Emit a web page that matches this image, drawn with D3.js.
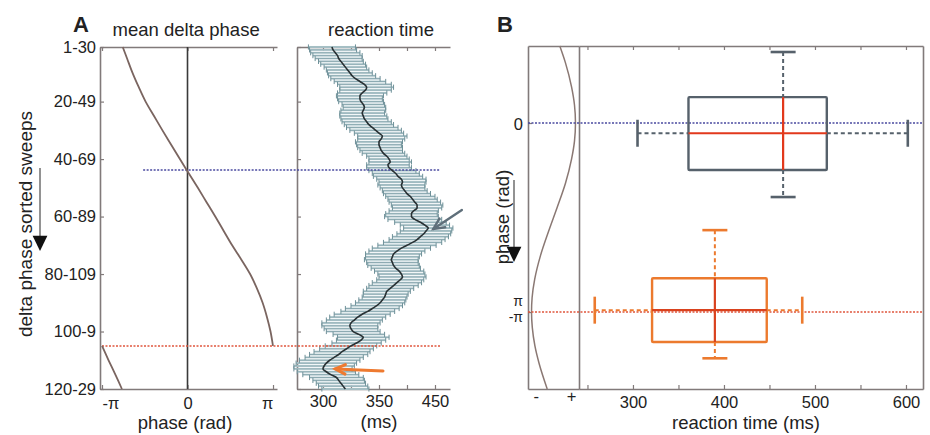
<!DOCTYPE html>
<html><head><meta charset="utf-8">
<script src="https://cdn.jsdelivr.net/npm/d3@7"></script>
<style>
html,body{margin:0;padding:0;background:#fff;}
svg text{font-family:"Liberation Sans",Arial,sans-serif;fill:#222;}
</style></head><body>
<svg id="chart" width="930" height="435"></svg>
<script>
// ---------------- DATA ----------------
// Panel A: sliding windows of delta-phase sorted sweeps
const windowTicks = [1, 20, 40, 60, 80, 100, 120];
const windowTickLabels = ["1-30", "20-49", "40-69", "60-89", "80-109", "100-9", "120-29"];

// mean delta phase (rad) per window, before and after the wrap at ±π
const phaseWindows1 = [1, 5, 10, 15, 20, 25, 30, 35, 40, 45, 50, 55, 60, 65, 70, 75, 80, 85, 90, 95, 100, 105];
const meanPhase1 = [-2.38, -2.22, -2.02, -1.79, -1.54, -1.23, -0.92, -0.60, -0.28, 0.05, 0.38, 0.70, 1.02, 1.33, 1.64, 1.98, 2.30, 2.55, 2.76, 2.92, 3.05, 3.14];
const phaseWindows2 = [105, 110, 115, 120];
const meanPhase2 = [-3.14, -2.90, -2.65, -2.41];
const phaseTicksA = [-Math.PI, 0, Math.PI];
const phaseTickLabelsA = ["-π", "0", "π"];

// reaction time (ms) per window 1..120: mean and SEM
const rtMean = [
 308,309,311,313,314,316,318,320,322,324,
 326,329,333,337,339,338,335,333,333,334,
 336,337,336,335,336,337,339,341,344,347,
 350,353,352,350,350,351,352,354,357,359,
 360,358,359,362,365,367,370,371,370,371,
 373,375,378,380,382,384,384,381,379,379,
 382,387,391,394,392,390,387,384,380,375,
 370,366,363,362,361,362,363,365,368,370,
 371,369,366,363,360,357,356,355,353,351,
 348,344,340,335,331,328,325,324,325,327,
 332,336,334,330,325,321,317,314,310,306,
 303,301,300,303,307,312,314,316,318,320];
const rtSem = [
 21,21,22,22,21,20,20,19,19,20,
 21,22,23,24,24,23,22,21,20,20,
 19,19,20,20,21,21,22,22,23,23,
 22,22,21,21,20,20,19,19,18,18,
 19,19,20,21,21,22,22,21,21,20,
 20,21,22,22,23,23,22,22,23,24,
 24,23,22,22,23,24,25,25,26,26,
 26,25,25,24,24,23,23,22,22,21,
 21,21,22,22,21,21,20,20,21,22,
 23,24,24,25,25,25,26,25,24,24,
 23,23,22,22,23,24,25,26,26,27,
 27,27,26,26,25,24,23,22,22,21];
const rtTicksA = [300, 325, 350, 375, 400];
const rtTickLabelsA = ["300", "", "350", "", "450"];

// reference windows (zero crossing and ±π wrap)
const zeroCrossWindow = 43.8;
const wrapWindow = 105;

// Panel B: phase density (arbitrary units, - to +)
const densityPhase = [-1.28, -1.0, -0.6, -0.3, 0, 0.3, 0.6, 1.0, 1.4, 1.8, 2.2, 2.6, 2.9, 3.14, 3.4, 3.7, 4.0, 4.42];
const densityValue = [0.32, 0.61, 0.92, 1.07, 1.12, 1.07, 0.92, 0.61, 0.19, -0.25, -0.66, -0.96, -1.09, -1.12, -1.08, -0.95, -0.73, -0.32];
const densityTicks = [-0.9, 0.9];
const densityTickLabels = ["-", "+"];

// Panel B: 2-D box plots (reaction time x phase) for the two groups
const boxGroups = ["phase 0", "phase ±π"];
const rtWhiskLo = [305, 258];
const rtQ1 = [361, 321];
const rtMedian = [465, 390];
const rtQ3 = [513, 447];
const rtWhiskHi = [602, 486];
const phWhiskLo = [-1.18, 1.78];
const phQ1 = [-0.43, 2.58];
const phMedian = [0.17, 3.11];
const phQ3 = [0.78, 3.64];
const phWhiskHi = [1.23, 3.91];
const rtTicksB = [250, 300, 350, 400, 450, 500, 550, 600];
const rtTickLabelsB = ["", "300", "", "400", "", "500", "", "600"];
const phaseTicksB = [0, Math.PI];
const phaseTickLabelsB = [["0"], ["π", "-π"]];

// ---------------- DRAWING ----------------
const svg = d3.select("#chart");
const AX = "#817a7a";
const TICKFS = "16.5px";
const LABFS = "18.5px";
const BLUE_DOT = "#4a4aa0";
const RED_DOT = "#e0553d";

// scales
const yWin = d3.scaleLinear().domain([1, 120]).range([47, 389]);
const xPhA = d3.scaleLinear().domain([-3.215, 3.288]).range([100, 277]);
const xRtA = d3.scaleLinear().domain([276.8, 413.4]).range([297, 450]);
const yPhB = d3.scaleLinear().domain([-1.28, 4.42]).range([46, 389]);
const xDenB = d3.scaleLinear().domain([-1.3, 1.3]).range([528, 579]);
const xRtB = d3.scaleLinear().domain([240.7, 618.7]).range([579, 923]);

function styleAxis(g) {
  g.attr("font-size", null).attr("font-family", null);
  g.selectAll(".domain").attr("stroke", AX).attr("stroke-width", 1.6);
  g.selectAll(".tick line").attr("stroke", AX).attr("stroke-width", 1.2);
  g.selectAll(".tick text").style("font-size", TICKFS).attr("fill", "#222");
  return g;
}
function addAxis(axis, tx, ty) {
  const g = svg.append("g").attr("transform", `translate(${tx},${ty})`).call(axis);
  return styleAxis(g);
}

// ---------- Panel A, left: mean delta phase ----------
addAxis(d3.axisLeft(yWin).tickValues(windowTicks).tickFormat((d, i) => windowTickLabels[i])
  .tickSizeInner(-4).tickSizeOuter(0).tickPadding(4), xPhA.range()[0], 0);
const gAb = addAxis(d3.axisBottom(xPhA).tickValues(phaseTicksA).tickFormat((d, i) => phaseTickLabelsA[i])
  .tickSizeInner(-4).tickSizeOuter(0).tickPadding(8), 0, yWin.range()[1]);
gAb.selectAll(".tick text").attr("text-anchor", (d, i) => i === 0 ? "start" : (i === phaseTicksA.length - 1 ? "end" : "middle"));
addAxis(d3.axisTop(xPhA).tickValues(phaseTicksA).tickFormat("")
  .tickSizeInner(-4).tickSizeOuter(0), 0, yWin.range()[0]);

// zero line
svg.append("line")
  .attr("x1", xPhA(0)).attr("x2", xPhA(0))
  .attr("y1", yWin(1)).attr("y2", yWin(120))
  .attr("stroke", "#3a3a3a").attr("stroke-width", 1.6);

// ---------- Panel A, right: reaction time ----------
addAxis(d3.axisLeft(yWin).tickValues(windowTicks).tickFormat("")
  .tickSizeInner(-4).tickSizeOuter(0), xRtA.range()[0], 0);
addAxis(d3.axisBottom(xRtA).tickValues(rtTicksA).tickFormat((d, i) => rtTickLabelsA[i])
  .tickSizeInner(-4).tickSizeOuter(0).tickPadding(6.5), 0, yWin.range()[1]);
addAxis(d3.axisTop(xRtA).tickValues(rtTicksA).tickFormat("")
  .tickSizeInner(-4).tickSizeOuter(0), 0, yWin.range()[0]);

// error bars
const rows = rtMean.map((m, i) => ({ w: i + 1, m: m, s: rtSem[i] }));
const step = yWin(2) - yWin(1);
const gErr = svg.append("g");
gErr.selectAll("rect.band").data(rows).join("rect")
  .attr("x", d => xRtA(d.m - d.s)).attr("width", d => xRtA(d.m + d.s) - xRtA(d.m - d.s))
  .attr("y", d => yWin(d.w) - step * 0.36).attr("height", step * 0.72)
  .attr("fill", "#bfd3d8");
gErr.selectAll("line.bar").data(rows).join("line")
  .attr("x1", d => xRtA(d.m - d.s)).attr("x2", d => xRtA(d.m + d.s))
  .attr("y1", d => yWin(d.w)).attr("y2", d => yWin(d.w))
  .attr("stroke", "#86a5ad").attr("stroke-width", 0.9);
gErr.selectAll("line.capl").data(rows).join("line")
  .attr("x1", d => xRtA(d.m - d.s)).attr("x2", d => xRtA(d.m - d.s))
  .attr("y1", d => yWin(d.w) - 2.6).attr("y2", d => yWin(d.w) + 2.6)
  .attr("stroke", "#6f9199").attr("stroke-width", 1);
gErr.selectAll("line.capr").data(rows).join("line")
  .attr("x1", d => xRtA(d.m + d.s)).attr("x2", d => xRtA(d.m + d.s))
  .attr("y1", d => yWin(d.w) - 2.6).attr("y2", d => yWin(d.w) + 2.6)
  .attr("stroke", "#6f9199").attr("stroke-width", 1);

// reference dotted lines across panel A
svg.append("line")
  .attr("x1", xPhA(-1.63)).attr("x2", xRtA(404.5))
  .attr("y1", yWin(zeroCrossWindow)).attr("y2", yWin(zeroCrossWindow))
  .attr("stroke", BLUE_DOT).attr("stroke-width", 1.5).attr("stroke-dasharray", "2,1.5");
svg.append("line")
  .attr("x1", xPhA(-Math.PI)).attr("x2", xRtA(404.5))
  .attr("y1", yWin(wrapWindow)).attr("y2", yWin(wrapWindow))
  .attr("stroke", RED_DOT).attr("stroke-width", 1.5).attr("stroke-dasharray", "2,1.5");

// mean RT line
svg.append("path").datum(rows)
  .attr("d", d3.line().x(d => xRtA(d.m)).y(d => yWin(d.w)).curve(d3.curveMonotoneY))
  .attr("fill", "none").attr("stroke", "#283033").attr("stroke-width", 1.6);

// phase curve
const phLine = d3.line().x(d => xPhA(d[1])).y(d => yWin(d[0])).curve(d3.curveCatmullRom.alpha(0.5));
svg.append("path").datum(phaseWindows1.map((w, i) => [w, meanPhase1[i]]))
  .attr("d", phLine).attr("fill", "none").attr("stroke", "#7a6560").attr("stroke-width", 1.8);
svg.append("path").datum(phaseWindows2.map((w, i) => [w, meanPhase2[i]]))
  .attr("d", phLine).attr("fill", "none").attr("stroke", "#7a6560").attr("stroke-width", 1.8);

// arrows
function arrow(x1, y1, x2, y2, color, width, len, filled) {
  const a = Math.atan2(y2 - y1, x2 - x1), h = 0.45;
  const p1 = [x2 - len * Math.cos(a - h), y2 - len * Math.sin(a - h)];
  const p2 = [x2 - len * Math.cos(a + h), y2 - len * Math.sin(a + h)];
  if (filled) {
    const bx = x2 - len * 0.85 * Math.cos(a), by = y2 - len * 0.85 * Math.sin(a);
    svg.append("line").attr("x1", x1).attr("y1", y1).attr("x2", bx).attr("y2", by)
      .attr("stroke", color.line).attr("stroke-width", width);
    svg.append("path").attr("d", `M${x2},${y2}L${p1[0]},${p1[1]}L${p2[0]},${p2[1]}Z`)
      .attr("fill", color.head);
  } else {
    svg.append("line").attr("x1", x1).attr("y1", y1).attr("x2", x2).attr("y2", y2)
      .attr("stroke", color).attr("stroke-width", width).attr("stroke-linecap", "round");
    svg.append("path").attr("d", `M${p1[0]},${p1[1]}L${x2},${y2}L${p2[0]},${p2[1]}`)
      .attr("fill", "none").attr("stroke", color).attr("stroke-width", width)
      .attr("stroke-linecap", "round").attr("stroke-linejoin", "miter");
  }
}
arrow(xRtA(424), yWin(57.7), xRtA(398.5), yWin(64.3), "#5f6f7a", 2.4, 12, false);
arrow(xRtA(353.6), yWin(113.7), xRtA(311), yWin(113.0), "#ee7a30", 3, 11, false);

// titles / labels panel A
svg.append("text").attr("x", 81).attr("y", 32).attr("text-anchor", "middle")
  .style("font-size", "22px").style("font-weight", "bold").text("A");
svg.append("text").attr("x", xPhA(-0.05)).attr("y", 36).attr("text-anchor", "middle")
  .style("font-size", LABFS).text("mean delta phase");
svg.append("text").attr("x", 381).attr("y", 36).attr("text-anchor", "middle")
  .style("font-size", LABFS).text("reaction time");
svg.append("text").attr("x", 185).attr("y", 429).attr("text-anchor", "middle")
  .style("font-size", LABFS).text("phase (rad)");
svg.append("text").attr("x", 379).attr("y", 428).attr("text-anchor", "middle")
  .style("font-size", LABFS).text("(ms)");
svg.append("text").attr("transform", "translate(32,224) rotate(-90)").attr("text-anchor", "middle")
  .style("font-size", "19px").text("delta phase sorted sweeps");
arrow(40, 168, 40, 251, { line: "#777", head: "#111" }, 1.6, 17, true);

// ---------- Panel B ----------
// density subpanel
const gBl = addAxis(d3.axisLeft(yPhB).tickValues(phaseTicksB).tickFormat("")
  .tickSizeInner(-4).tickSizeOuter(0).tickPadding(5), xDenB.range()[0], 0);
gBl.selectAll(".tick").each(function (d, i) {
  const labs = phaseTickLabelsB[i];
  const t = d3.select(this).select("text").attr("dy", null).attr("x", -5).text(null);
  if (labs.length === 1) {
    t.attr("y", 6).text(labs[0]);
  } else {
    // stacked labels at the wrap point (π above, -π below)
    t.remove();
    labs.forEach((lab, j) => {
      d3.select(this).append("text").attr("x", -5).attr("y", j === 0 ? -7 : 9.5)
        .attr("text-anchor", "end").style("font-size", "14px").attr("fill", "#222").text(lab);
    });
  }
});
addAxis(d3.axisBottom(xDenB).tickValues(densityTicks).tickFormat((d, i) => densityTickLabels[i])
  .tickSize(0).tickPadding(1.5), 0, yPhB.range()[1]);
addAxis(d3.axisTop(xDenB).tickValues([]).tickSizeOuter(0), 0, yPhB.range()[0]);

// main box-plot subpanel
addAxis(d3.axisLeft(yPhB).tickValues([]).tickSizeOuter(0), xRtB.range()[0], 0);
addAxis(d3.axisRight(yPhB).tickValues([]).tickSizeOuter(0), xRtB.range()[1], 0);
addAxis(d3.axisBottom(xRtB).tickValues(rtTicksB).tickFormat((d, i) => rtTickLabelsB[i])
  .tickSizeInner(-4).tickSizeOuter(0).tickPadding(7.3), 0, yPhB.range()[1]);
addAxis(d3.axisTop(xRtB).tickValues(rtTicksB).tickFormat("")
  .tickSizeInner(-4).tickSizeOuter(0), 0, yPhB.range()[0]);

// density curve
svg.append("path").datum(densityPhase.map((p, i) => [p, densityValue[i]]))
  .attr("d", d3.line().x(d => xDenB(d[1])).y(d => yPhB(d[0])).curve(d3.curveMonotoneY))
  .attr("fill", "none").attr("stroke", "#8a7873").attr("stroke-width", 1.5);

// reference dotted lines across panel B
[[0, BLUE_DOT], [Math.PI, RED_DOT]].forEach(([p, c]) => {
  svg.append("line")
    .attr("x1", xDenB.range()[0]).attr("x2", xRtB.range()[1])
    .attr("y1", yPhB(p)).attr("y2", yPhB(p))
    .attr("stroke", c).attr("stroke-width", 1.5).attr("stroke-dasharray", "2,1.5");
});

// box plots
const boxColor = ["#56616b", "#ec7a2e"];
const medColor = ["#e2391c", "#d9421e"];
const gBox = svg.append("g");
boxGroups.forEach((name, i) => {
  const g = gBox.append("g");
  const ym = yPhB(phMedian[i]), xm = xRtB(rtMedian[i]);
  const dash = { stroke: boxColor[i], "stroke-width": 2, "stroke-dasharray": "4,3" };
  const seg = (x1, y1, x2, y2, attrs) => {
    const l = g.append("line").attr("x1", x1).attr("y1", y1).attr("x2", x2).attr("y2", y2);
    Object.entries(attrs).forEach(([k, v]) => l.attr(k, v));
  };
  // whiskers
  seg(xRtB(rtWhiskLo[i]), ym, xRtB(rtQ1[i]), ym, dash);
  seg(xRtB(rtQ3[i]), ym, xRtB(rtWhiskHi[i]), ym, dash);
  seg(xm, yPhB(phWhiskLo[i]), xm, yPhB(phQ1[i]), dash);
  seg(xm, yPhB(phQ3[i]), xm, yPhB(phWhiskHi[i]), dash);
  // caps
  const cap = { stroke: boxColor[i], "stroke-width": 2.6 };
  seg(xRtB(rtWhiskLo[i]), ym - 13.5, xRtB(rtWhiskLo[i]), ym + 13.5, cap);
  seg(xRtB(rtWhiskHi[i]), ym - 13.5, xRtB(rtWhiskHi[i]), ym + 13.5, cap);
  seg(xm - 12.5, yPhB(phWhiskLo[i]), xm + 12.5, yPhB(phWhiskLo[i]), cap);
  seg(xm - 12.5, yPhB(phWhiskHi[i]), xm + 12.5, yPhB(phWhiskHi[i]), cap);
  // box
  g.append("rect")
    .attr("x", xRtB(rtQ1[i])).attr("y", yPhB(phQ1[i]))
    .attr("width", xRtB(rtQ3[i]) - xRtB(rtQ1[i])).attr("height", yPhB(phQ3[i]) - yPhB(phQ1[i]))
    .attr("fill", "none").attr("stroke", boxColor[i]).attr("stroke-width", 2.4).attr("rx", 1);
  // medians
  const med = { stroke: medColor[i], "stroke-width": 2.2 };
  seg(xRtB(rtQ1[i]), ym, xRtB(rtQ3[i]), ym, med);
  seg(xm, yPhB(phQ1[i]), xm, yPhB(phQ3[i]), med);
});

// labels panel B
svg.append("text").attr("x", 505).attr("y", 32).attr("text-anchor", "middle")
  .style("font-size", "22px").style("font-weight", "bold").text("B");
svg.append("text").attr("x", 746).attr("y", 429).attr("text-anchor", "middle")
  .style("font-size", LABFS).text("reaction time (ms)");
svg.append("text").attr("transform", "translate(509,217) rotate(-90)").attr("text-anchor", "middle")
  .style("font-size", LABFS).text("phase (rad)");
arrow(514, 180, 514, 262, { line: "#777", head: "#111" }, 1.6, 17, true);
</script>
</body></html>
